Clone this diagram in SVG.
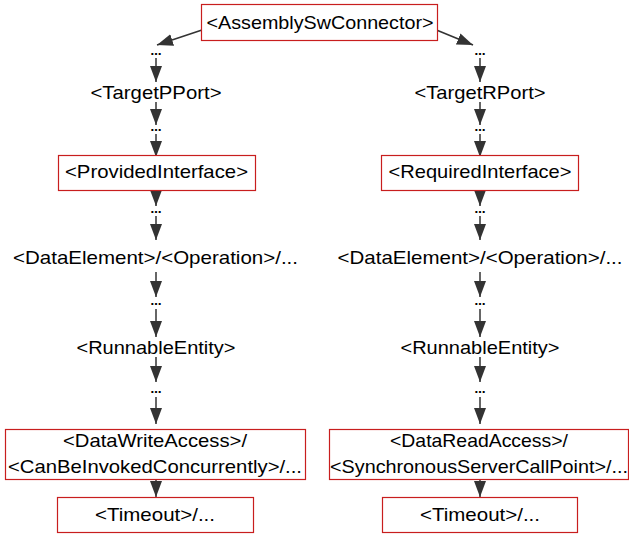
<svg xmlns="http://www.w3.org/2000/svg" width="629" height="534" viewBox="0 0 629 534">
<defs>
<marker id="ah" viewBox="0 0 16 12" refX="16" refY="6" markerWidth="16" markerHeight="12" markerUnits="userSpaceOnUse" orient="auto">
<path d="M0,0 L16,6 L0,12 z" fill="#333"/>
</marker>
<style>
.box{fill:#fff;stroke:#c81e1e;stroke-width:1.2}
.t{font-family:"Liberation Sans",Arial,sans-serif;font-size:18.5px;fill:#000;text-anchor:middle}
.d{font-family:"DejaVu Sans",sans-serif;font-size:11px;font-weight:bold;fill:#000;text-anchor:middle}
.c{stroke:#333;stroke-width:1.5;fill:none;marker-end:url(#ah)}
</style>
</defs>
<g id="connectors">
<line class="c" x1="205" y1="29" x2="157" y2="45"/>
<line class="c" x1="434" y1="29" x2="473" y2="45"/>
<line class="c" x1="156" y1="58" x2="156" y2="82"/>
<line class="c" x1="156" y1="102" x2="156" y2="125"/>
<line class="c" x1="156" y1="134" x2="156" y2="157"/>
<line class="c" x1="156" y1="190" x2="156" y2="206"/>
<line class="c" x1="156" y1="216" x2="156" y2="240"/>
<line class="c" x1="156" y1="272" x2="156" y2="297"/>
<line class="c" x1="156" y1="309" x2="156" y2="337"/>
<line class="c" x1="156" y1="357" x2="156" y2="382"/>
<line class="c" x1="156" y1="397" x2="156" y2="424"/>
<line class="c" x1="156" y1="479" x2="156" y2="497"/>
<line class="c" x1="480" y1="58" x2="480" y2="82"/>
<line class="c" x1="480" y1="102" x2="480" y2="125"/>
<line class="c" x1="480" y1="134" x2="480" y2="157"/>
<line class="c" x1="480" y1="190" x2="480" y2="206"/>
<line class="c" x1="480" y1="216" x2="480" y2="240"/>
<line class="c" x1="480" y1="272" x2="480" y2="297"/>
<line class="c" x1="480" y1="309" x2="480" y2="337"/>
<line class="c" x1="480" y1="357" x2="480" y2="382"/>
<line class="c" x1="480" y1="397" x2="480" y2="424"/>
<line class="c" x1="480" y1="479" x2="480" y2="497"/>
</g>
<g id="n-assembly">
<rect class="box" x="201.5" y="4.5" width="236" height="36"/>
<text class="t" x="320" y="29" textLength="227" lengthAdjust="spacingAndGlyphs">&lt;AssemblySwConnector&gt;</text>
</g>
<g id="dots-l1"><text class="d" x="156" y="55">…</text></g>
<g id="dots-r1"><text class="d" x="480" y="55">…</text></g>
<g id="n-targetp"><text class="t" x="156" y="99" textLength="131" lengthAdjust="spacingAndGlyphs">&lt;TargetPPort&gt;</text></g>
<g id="n-targetr"><text class="t" x="480" y="99" textLength="131" lengthAdjust="spacingAndGlyphs">&lt;TargetRPort&gt;</text></g>
<g id="dots-l2"><text class="d" x="156" y="131">…</text></g>
<g id="dots-r2"><text class="d" x="480" y="131">…</text></g>
<g id="n-provided">
<rect class="box" x="58.5" y="155.5" width="197" height="35"/>
<text class="t" x="156.5" y="178" textLength="183" lengthAdjust="spacingAndGlyphs">&lt;ProvidedInterface&gt;</text>
</g>
<g id="n-required">
<rect class="box" x="381.5" y="155.5" width="197" height="35"/>
<text class="t" x="480" y="178" textLength="183" lengthAdjust="spacingAndGlyphs">&lt;RequiredInterface&gt;</text>
</g>
<g id="dots-l3"><text class="d" x="156" y="213">…</text></g>
<g id="dots-r3"><text class="d" x="480" y="213">…</text></g>
<g id="n-data-l"><text class="t" x="155.5" y="264" textLength="285" lengthAdjust="spacingAndGlyphs">&lt;DataElement&gt;/&lt;Operation&gt;/...</text></g>
<g id="n-data-r"><text class="t" x="480" y="264" textLength="285" lengthAdjust="spacingAndGlyphs">&lt;DataElement&gt;/&lt;Operation&gt;/...</text></g>
<g id="dots-l4"><text class="d" x="156" y="305">…</text></g>
<g id="dots-r4"><text class="d" x="480" y="305">…</text></g>
<g id="n-runnable-l"><text class="t" x="156" y="354" textLength="159" lengthAdjust="spacingAndGlyphs">&lt;RunnableEntity&gt;</text></g>
<g id="n-runnable-r"><text class="t" x="480" y="354" textLength="159" lengthAdjust="spacingAndGlyphs">&lt;RunnableEntity&gt;</text></g>
<g id="dots-l5"><text class="d" x="156" y="393">…</text></g>
<g id="dots-r5"><text class="d" x="480" y="393">…</text></g>
<g id="n-write">
<rect class="box" x="5.5" y="429.5" width="300" height="50"/>
<text class="t" x="155" y="447" textLength="184" lengthAdjust="spacingAndGlyphs">&lt;DataWriteAccess&gt;/</text>
<text class="t" x="155" y="473" textLength="294" lengthAdjust="spacingAndGlyphs">&lt;CanBeInvokedConcurrently&gt;/...</text>
</g>
<g id="n-read">
<rect class="box" x="329.5" y="429.5" width="299" height="50"/>
<text class="t" x="479" y="447" textLength="178" lengthAdjust="spacingAndGlyphs">&lt;DataReadAccess&gt;/</text>
<text class="t" x="479" y="473" textLength="298" lengthAdjust="spacingAndGlyphs">&lt;SynchronousServerCallPoint&gt;/...</text>
</g>
<g id="n-timeout-l">
<rect class="box" x="57.5" y="497.5" width="196" height="35"/>
<text class="t" x="155" y="521" textLength="120" lengthAdjust="spacingAndGlyphs">&lt;Timeout&gt;/...</text>
</g>
<g id="n-timeout-r">
<rect class="box" x="382.5" y="497.5" width="195" height="35"/>
<text class="t" x="480" y="521" textLength="120" lengthAdjust="spacingAndGlyphs">&lt;Timeout&gt;/...</text>
</g>
</svg>
